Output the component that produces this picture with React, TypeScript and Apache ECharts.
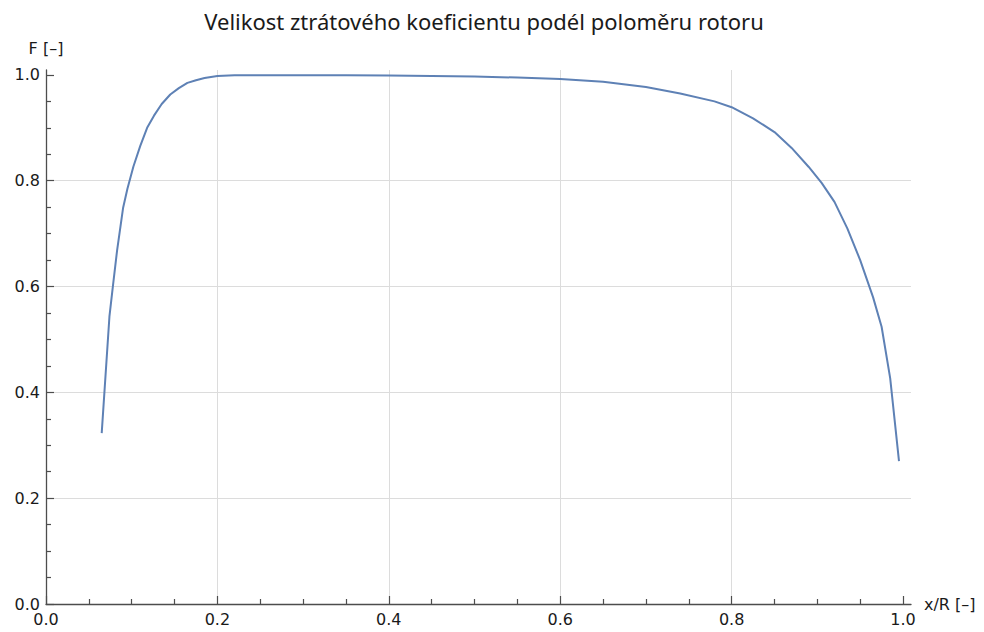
import React, { useEffect, useRef } from "react";
import * as echarts from "echarts";

const TITLE = "Velikost ztrátového koeficientu podél poloměru rotoru";
const X_NAME = "x/R [–]";
const Y_NAME = "F [–]";

const xValues = [
  0.065, 0.074, 0.078, 0.083, 0.090, 0.095, 0.102, 0.110, 0.118, 0.126,
  0.135, 0.145, 0.155, 0.165, 0.175, 0.185, 0.20, 0.22, 0.25, 0.30,
  0.35, 0.40, 0.45, 0.50, 0.55, 0.60, 0.65, 0.70, 0.74, 0.78,
  0.80, 0.825, 0.85, 0.87, 0.89, 0.905, 0.92, 0.935, 0.95, 0.965,
  0.975, 0.985, 0.9953,
];
const fValues = [
  0.323, 0.543, 0.600, 0.669, 0.749, 0.785, 0.827, 0.866, 0.900, 0.923,
  0.945, 0.963, 0.975, 0.985, 0.990, 0.994, 0.998, 0.9993, 0.9996, 0.9996,
  0.9994, 0.999, 0.998, 0.997, 0.995, 0.9924, 0.987, 0.977, 0.965, 0.950,
  0.939, 0.918, 0.892, 0.862, 0.826, 0.796, 0.760, 0.710, 0.650, 0.580,
  0.524, 0.427, 0.270,
];

const majorTicks = [0, 0.2, 0.4, 0.6, 0.8, 1.0];
const minorTicks = [
  0.05, 0.1, 0.15, 0.25, 0.3, 0.35, 0.45, 0.5, 0.55,
  0.65, 0.7, 0.75, 0.85, 0.9, 0.95,
];
const tickLabels = ["0.0", "0.2", "0.4", "0.6", "0.8", "1.0"];

const AXIS_MAX = 1.0093;

export default function App() {
  const ref = useRef<HTMLDivElement>(null);
  useEffect(() => {
    document.body.style.margin = "0";
    const chart = echarts.init(ref.current!, null, { renderer: "svg" });
    const axisColor = "#4d4d4d";
    const labelFont = {
      fontFamily: "DejaVu Sans",
      fontSize: 16,
      color: "#1a1a1a",
    };
    const fmt = (v: number) => {
      const i = majorTicks.findIndex((t) => Math.abs(t - v) < 1e-6);
      return i >= 0 ? tickLabels[i] : "";
    };
    const data = xValues.map((x, i) => [x, fValues[i]]);
    chart.setOption({
      animation: false,
      backgroundColor: "#ffffff",
      title: {
        text: TITLE,
        left: 479,
        textAlign: "center",
        top: 5,
        textStyle: {
          fontFamily: "Noto Sans",
          fontWeight: "normal",
          fontSize: 22,
          color: "#1a1a1a",
        },
      },
      grid: { left: 46, right: 73, top: 70, bottom: 28 },
      xAxis: [
        {
          type: "value",
          min: 0,
          max: AXIS_MAX,
          name: X_NAME,
          nameLocation: "end",
          nameGap: 13,
          nameTextStyle: { ...labelFont, verticalAlign: "middle", padding: [-2, 0, 0, 0] },
          axisLine: { show: true, lineStyle: { color: axisColor, width: 1.3 } },
          axisTick: {
            show: true,
            inside: true,
            length: 8,
            customValues: majorTicks,
            lineStyle: { color: axisColor, width: 1.2 },
          },
          axisLabel: {
            show: true,
            margin: 7,
            customValues: majorTicks,
            formatter: fmt,
            ...labelFont,
          },
          splitLine: {
            show: true,
            showMinLine: false,
            showMaxLine: false,
            lineStyle: { color: "#dcdcdc", width: 1 },
          },
          minorTick: { show: false },
        },
        {
          type: "value",
          min: 0,
          max: AXIS_MAX,
          position: "bottom",
          axisLine: { show: false },
          axisTick: {
            show: true,
            inside: true,
            length: 5,
            customValues: minorTicks,
            lineStyle: { color: axisColor, width: 1.2 },
          },
          axisLabel: { show: false },
          splitLine: { show: false },
        },
      ],
      yAxis: [
        {
          type: "value",
          min: 0,
          max: AXIS_MAX,
          name: Y_NAME,
          nameLocation: "end",
          nameGap: 14,
          nameTextStyle: { ...labelFont, align: "center" },
          axisLine: { show: true, lineStyle: { color: axisColor, width: 1.3 } },
          axisTick: {
            show: true,
            inside: true,
            length: 8,
            customValues: majorTicks,
            lineStyle: { color: axisColor, width: 1.2 },
          },
          axisLabel: {
            show: true,
            margin: 6,
            customValues: majorTicks,
            formatter: fmt,
            ...labelFont,
          },
          splitLine: {
            show: true,
            showMinLine: false,
            showMaxLine: false,
            lineStyle: { color: "#dcdcdc", width: 1 },
          },
        },
        {
          type: "value",
          min: 0,
          max: AXIS_MAX,
          position: "left",
          axisLine: { show: false },
          axisTick: {
            show: true,
            inside: true,
            length: 5,
            customValues: minorTicks,
            lineStyle: { color: axisColor, width: 1.2 },
          },
          axisLabel: { show: false },
          splitLine: { show: false },
        },
      ],
      series: [
        {
          type: "line",
          xAxisIndex: 0,
          yAxisIndex: 0,
          data,
          showSymbol: false,
          smooth: false,
          lineStyle: { color: "#5e81b5", width: 2 },
          itemStyle: { color: "#5e81b5" },
        },
      ],
    });
    return () => chart.dispose();
  }, []);
  return <div ref={ref} style={{ width: 984, height: 632 }} />;
}
